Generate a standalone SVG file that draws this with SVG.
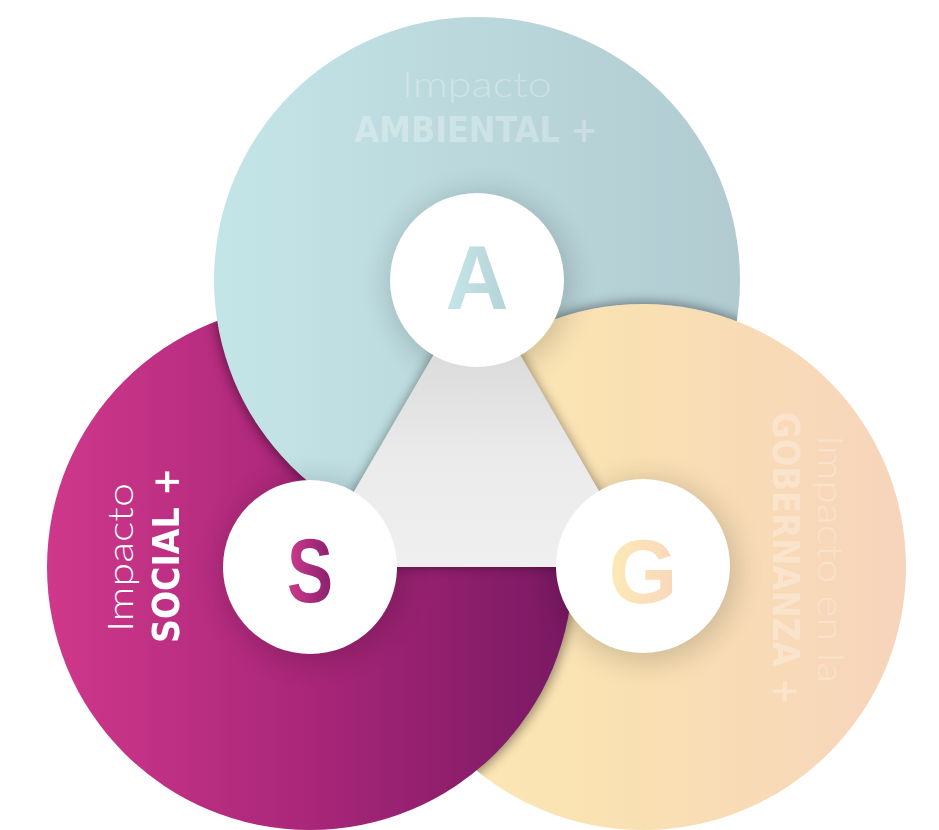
<svg xmlns="http://www.w3.org/2000/svg" width="939" height="830" viewBox="0 0 939 830">
  <defs>
    <linearGradient id="gradT" gradientUnits="userSpaceOnUse" x1="214" y1="0" x2="740" y2="0">
      <stop offset="0" stop-color="#c4e5e7"/>
      <stop offset="1" stop-color="#b1cbd1"/>
    </linearGradient>
    <linearGradient id="gradM" gradientUnits="userSpaceOnUse" x1="47" y1="0" x2="573" y2="0">
      <stop offset="0" stop-color="#cf388b"/>
      <stop offset="0.5" stop-color="#a92679"/>
      <stop offset="1" stop-color="#791963"/>
    </linearGradient>
    <linearGradient id="gradY" gradientUnits="userSpaceOnUse" x1="380" y1="0" x2="906" y2="0">
      <stop offset="0" stop-color="#fdeab7"/>
      <stop offset="0.5" stop-color="#f9e0b2"/>
      <stop offset="1" stop-color="#f7d4bc"/>
    </linearGradient>
    <linearGradient id="gradTri" gradientUnits="userSpaceOnUse" x1="0" y1="300" x2="0" y2="567">
      <stop offset="0" stop-color="#d3d3d3"/>
      <stop offset="0.6" stop-color="#ebebeb"/>
      <stop offset="1" stop-color="#efefef"/>
    </linearGradient>
    <linearGradient id="gradLetterA" gradientUnits="userSpaceOnUse" x1="445" y1="0" x2="508" y2="0">
      <stop offset="0" stop-color="#c6e6e8"/>
      <stop offset="1" stop-color="#b6d3d8"/>
    </linearGradient>
    <linearGradient id="gradLetterS" gradientUnits="userSpaceOnUse" x1="287" y1="0" x2="333" y2="0">
      <stop offset="0" stop-color="#cf3a8c"/>
      <stop offset="1" stop-color="#86206c"/>
    </linearGradient>
    <linearGradient id="gradLetterG" gradientUnits="userSpaceOnUse" x1="608" y1="0" x2="677" y2="0">
      <stop offset="0" stop-color="#fdeab6"/>
      <stop offset="1" stop-color="#f8d7bd"/>
    </linearGradient>
    <clipPath id="clipT"><circle cx="477" cy="280" r="263"/></clipPath>
    <clipPath id="clipM"><circle cx="310" cy="567" r="263"/></clipPath>
    <clipPath id="clipY"><circle cx="643" cy="567" r="263"/></clipPath>
    <mask id="notYellow" maskUnits="userSpaceOnUse" x="0" y="0" width="939" height="830">
      <rect x="0" y="0" width="939" height="830" fill="#ffffff"/>
      <circle cx="643" cy="567" r="263" fill="#000000"/>
    </mask>
    <filter id="blur" x="-20%" y="-20%" width="140%" height="140%">
      <feGaussianBlur stdDeviation="6"/>
    </filter>
    <filter id="blurBig" x="-50%" y="-50%" width="200%" height="200%">
      <feGaussianBlur stdDeviation="14"/>
    </filter>
    <style>
      .shadow { fill: #000; opacity: 0.42; }
      .white { fill: #ffffff; }
      .light { font-family: Lato, "Open Sans", "Liberation Sans", sans-serif; font-weight: 300; font-size: 35px; }
      .bold { font-family: "DejaVu Sans", "Liberation Sans", sans-serif; font-weight: bold; font-size: 35px; }
      .letter { font-family: "Liberation Sans", Arial, sans-serif; font-weight: bold; font-size: 90px; text-anchor: middle; }
      .faint { fill: #ffffff; fill-opacity: 0.28; }
    </style>
  </defs>

  <!-- Big circles with cyclic overlap -->
  <g id="circle-gobernanza">
    <circle cx="643" cy="567" r="263" fill="url(#gradY)"/>
  </g>
  <g id="shadow-social-on-gobernanza" clip-path="url(#clipY)">
    <circle cx="312" cy="569" r="263" class="shadow" filter="url(#blur)"/>
  </g>
  <g id="circle-social">
    <circle cx="310" cy="567" r="263" fill="url(#gradM)"/>
  </g>
  <g id="shadow-ambiental-on-social" clip-path="url(#clipM)">
    <circle cx="475" cy="282" r="263" class="shadow" filter="url(#blur)"/>
  </g>
  <g id="circle-ambiental" mask="url(#notYellow)">
    <circle cx="477" cy="280" r="263" fill="url(#gradT)"/>
    <g clip-path="url(#clipT)">
      <circle cx="643" cy="565" r="263" class="shadow" filter="url(#blur)"/>
    </g>
  </g>

  <!-- soft shadows of white circles -->
  <g id="node-shadows" opacity="0.16">
    <circle cx="480" cy="284" r="92" fill="#000" filter="url(#blurBig)"/>
    <circle cx="313" cy="571" r="92" fill="#000" filter="url(#blurBig)"/>
    <circle cx="646" cy="571" r="92" fill="#000" filter="url(#blurBig)"/>
  </g>

  <!-- central triangle -->
  <g id="triangle">
    <polygon points="477,280 310,567 643,567" class="shadow" filter="url(#blur)" opacity="0.35"/>
    <polygon points="477,280 310,567 643,567" fill="url(#gradTri)"/>
  </g>

  <!-- nodes -->
  <g id="node-A">
    <circle cx="477" cy="280" r="87" class="white"/>
    <text x="477" y="309" class="letter" fill="url(#gradLetterA)" textLength="63" lengthAdjust="spacingAndGlyphs">A</text>
  </g>
  <g id="node-S">
    <circle cx="310" cy="567" r="87" class="white"/>
    <text x="310" y="602" class="letter" fill="url(#gradLetterS)" textLength="46" lengthAdjust="spacingAndGlyphs">S</text>
  </g>
  <g id="node-G">
    <circle cx="643" cy="566" r="87" class="white"/>
    <text x="643" y="603" class="letter" fill="url(#gradLetterG)" textLength="69" lengthAdjust="spacingAndGlyphs">G</text>
  </g>

  <!-- labels -->
  <g id="label-ambiental">
    <text x="477" y="97" class="light faint" text-anchor="middle" textLength="150" lengthAdjust="spacingAndGlyphs">Impacto</text>
    <text x="476" y="142" class="bold faint" text-anchor="middle" textLength="243" lengthAdjust="spacingAndGlyphs">AMBIENTAL +</text>
  </g>
  <g id="label-social">
    <text transform="translate(133,632) rotate(-90)" class="light" fill="#ffffff" textLength="149" lengthAdjust="spacingAndGlyphs">Impacto</text>
    <text transform="translate(179,643) rotate(-90)" class="bold" fill="#ffffff" style="font-size:37px" textLength="175" lengthAdjust="spacingAndGlyphs">SOCIAL +</text>
  </g>
  <g id="label-gobernanza">
    <text transform="translate(818,435) rotate(90)" class="light faint" textLength="248" lengthAdjust="spacingAndGlyphs">Impacto en la</text>
    <text transform="translate(773,412) rotate(90)" class="bold faint" style="font-size:37px" textLength="293" lengthAdjust="spacingAndGlyphs">GOBERNANZA +</text>
  </g>
</svg>
